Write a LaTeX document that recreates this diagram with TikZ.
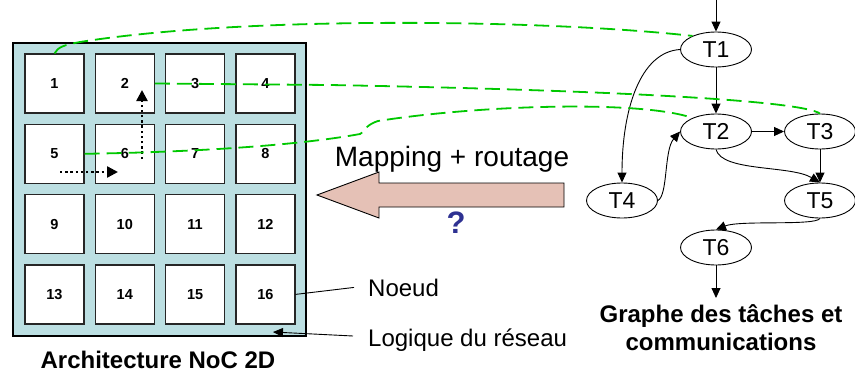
\documentclass[tikz,border=0pt]{standalone}
\usepackage{fontspec}
\setmainfont{Liberation Sans}
\usetikzlibrary{arrows.meta,shapes.geometric,positioning}
\definecolor{noclight}{RGB}{188,223,226}
\definecolor{mapgreen}{RGB}{0,200,0}
\definecolor{arrowpink}{RGB}{229,193,182}
\definecolor{askblue}{RGB}{46,49,146}

\begin{document}
\begin{tikzpicture}[
  x=1pt,y=-1pt,
  >={Triangle[length=10pt,width=9pt]},
  cell/.style={draw=black!85,line width=1.2pt,fill=white,minimum size=59pt,inner sep=0pt,font=\fontsize{14.5}{16}\selectfont\bfseries},
  task/.style={ellipse,draw,line width=0.9pt,fill=white,minimum width=71pt,minimum height=35pt,inner sep=0pt,font=\fontsize{23}{26}\selectfont},
  flow/.style={->,line width=0.9pt},
  mapline/.style={mapgreen,line width=1.8pt,dash pattern=on 15pt off 7pt},
  hop/.style={-{Triangle[length=11pt,width=11pt]},line width=2.4pt,dash pattern=on 2.4pt off 2.8pt},
  note/.style={inner sep=0pt,font=\fontsize{24}{28}\selectfont},
  titletext/.style={inner sep=0pt,font=\fontsize{24}{28}\selectfont\bfseries}
]
  \useasboundingbox (0,0) rectangle (855,372);

  % 2D mesh of nodes on the network fabric
  \node[draw,line width=1.3pt,fill=noclight,minimum width=293pt,minimum height=293pt,inner sep=0pt] (noc) at (159.5,189.5) {};
  \foreach \r in {0,...,3}
    \foreach \c in {1,...,4} {
      \pgfmathtruncatemacro{\n}{4*\r+\c}
      \node[cell] (b\n) at ({54.5+70.3*(\c-1)},{83.5+70.3*\r}) {\n};
    }

  % XY route 5 -> 6 -> 2
  \coordinate (h0) at (60,172);
  \coordinate (h1) at (118,172);
  \coordinate (v0) at (142,159);
  \coordinate (v1) at (142,90);
  \draw[hop] (h0) -- (h1);
  \draw[hop] (v0) -- (v1);

  % task graph
  \node[task] (T1) at (716,49.5) {T1};
  \node[task] (T2) at (716,131.5) {T2};
  \node[task] (T3) at (820,131.5) {T3};
  \node[task] (T4) at (622,200.5) {T4};
  \node[task] (T5) at (820,200.5) {T5};
  \node[task] (T6) at (716,247.5) {T6};
  \coordinate (in) at (716,0);
  \coordinate (out) at (716,298);

  \draw[flow] (in) -- (T1);
  \draw[flow] (T1) -- (T2);
  \draw[flow] (T2) -- (T3);
  \draw[flow] (T3) -- (T5);
  \draw[flow] (T1.west) .. controls (640,52) and (622,110) .. (T4.north);
  \draw[flow] (T4.east) .. controls (668,195) and (664,150) .. (T2.west);
  \draw[flow] (T2.south) .. controls (722,172) and (790,165) .. (T5.north);
  \draw[flow] (T5.south) .. controls (815,226) and (740,220) .. (T6.north);
  \draw[flow] (T6) -- (out);

  % mapping of tasks onto mesh nodes
  \draw[mapline] (b1.north) .. controls (58,47) and (64,45) .. (80,42)
    .. controls (250,15) and (550,20) .. (T1.150);
  \draw[mapline] (b2.east) -- (330,85) .. controls (600,90) and (800,100) .. (T3.north);
  \draw[mapline] (b5.east) .. controls (200,152) and (300,145) .. (360,134)
    .. controls (366,132) and (363,126) .. (378,121)
    .. controls (480,105) and (640,100) .. (T2.150);

  % big arrow
  \draw[line width=0.9pt,fill=arrowpink] (564,183) -- (379,183) -- (379,172) -- (317,195)
    -- (379,218) -- (379,207) -- (564,207) -- cycle;
  \node[note,font=\fontsize{28}{32}\selectfont,anchor=base] (mapping) at (452,166) {Mapping + routage};
  \node[inner sep=0pt,font=\fontsize{31}{34}\selectfont\bfseries,text=askblue] (ask) at (456,223) {?};

  % legend
  \node[note,anchor=base west] (noeud) at (368,296) {Noeud};
  \node[note,anchor=base west] (logique) at (368,346) {Logique du réseau};
  \coordinate (netend) at (353,336);
  \coordinate (netlogic) at (273,332);
  \draw[line width=0.9pt] (b16.east) -- ([xshift=-14pt]noeud.west);
  \draw[flow] (netend) -- (netlogic);

  \node[titletext,anchor=base] (nocname) at (158,368) {Architecture NoC 2D};
  \node[titletext,anchor=base] (graphname1) at (721,322) {Graphe des tâches et};
  \node[titletext,anchor=base] (graphname2) at (721,350) {communications};
\end{tikzpicture}
\end{document}
